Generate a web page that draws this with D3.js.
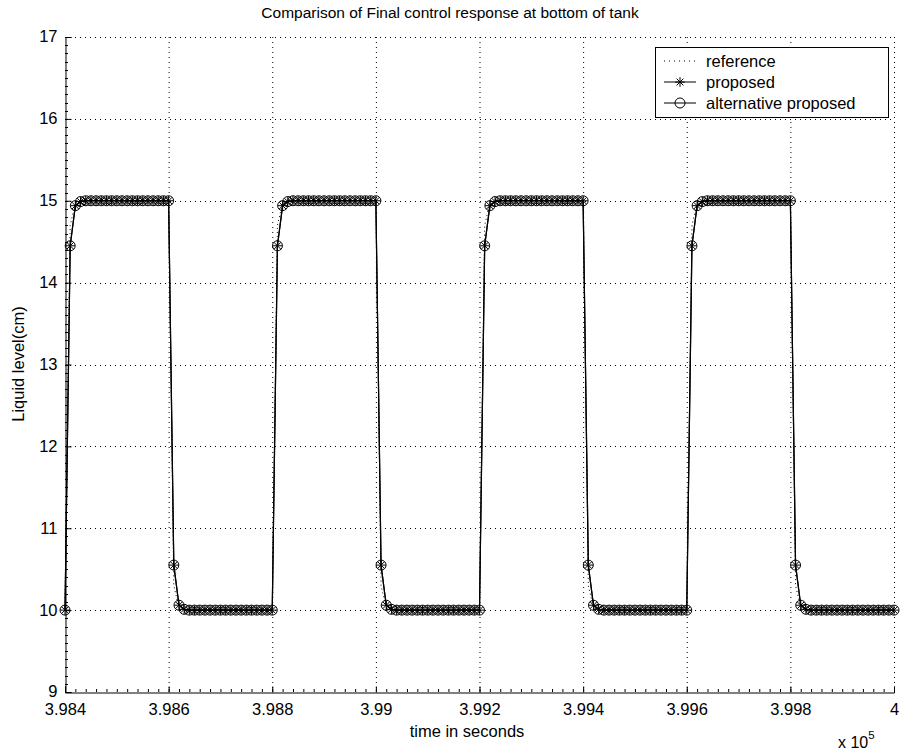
<!DOCTYPE html>
<html><head><meta charset="utf-8">
<script src="https://cdn.jsdelivr.net/npm/d3@7"></script>
<style>
body{margin:0;background:#fff;}
text{font-family:"Liberation Sans",Arial,Helvetica,sans-serif;fill:#000;}
</style></head>
<body><svg id="c" width="900" height="754"></svg>
<script>
// ---- data ----
const tStart = 398400, tStep = 10; // sample times in seconds (every 10 s)
const proposed = [
10,14.45,14.94,14.99,15,15,15,15,15,15,15,15,15,15,15,15,15,15,15,15,15,10.55,10.06,10.01,10,10,10,10,10,10,10,10,10,10,10,10,10,10,10,10,
10,14.45,14.94,14.99,15,15,15,15,15,15,15,15,15,15,15,15,15,15,15,15,15,10.55,10.06,10.01,10,10,10,10,10,10,10,10,10,10,10,10,10,10,10,10,
10,14.45,14.94,14.99,15,15,15,15,15,15,15,15,15,15,15,15,15,15,15,15,15,10.55,10.06,10.01,10,10,10,10,10,10,10,10,10,10,10,10,10,10,10,10,
10,14.45,14.94,14.99,15,15,15,15,15,15,15,15,15,15,15,15,15,15,15,15,15,10.55,10.06,10.01,10,10,10,10,10,10,10,10,10,10,10,10,10,10,10,10,
10];
const alternative = [
10,14.45,14.94,14.99,15,15,15,15,15,15,15,15,15,15,15,15,15,15,15,15,15,10.55,10.06,10.01,10,10,10,10,10,10,10,10,10,10,10,10,10,10,10,10,
10,14.45,14.94,14.99,15,15,15,15,15,15,15,15,15,15,15,15,15,15,15,15,15,10.55,10.06,10.01,10,10,10,10,10,10,10,10,10,10,10,10,10,10,10,10,
10,14.45,14.94,14.99,15,15,15,15,15,15,15,15,15,15,15,15,15,15,15,15,15,10.55,10.06,10.01,10,10,10,10,10,10,10,10,10,10,10,10,10,10,10,10,
10,14.45,14.94,14.99,15,15,15,15,15,15,15,15,15,15,15,15,15,15,15,15,15,10.55,10.06,10.01,10,10,10,10,10,10,10,10,10,10,10,10,10,10,10,10,
10];
const reference = [
10,14.7,14.97,15,15,15,15,15,15,15,15,15,15,15,15,15,15,15,15,15,15,10.3,10.03,10,10,10,10,10,10,10,10,10,10,10,10,10,10,10,10,10,
10,14.7,14.97,15,15,15,15,15,15,15,15,15,15,15,15,15,15,15,15,15,15,10.3,10.03,10,10,10,10,10,10,10,10,10,10,10,10,10,10,10,10,10,
10,14.7,14.97,15,15,15,15,15,15,15,15,15,15,15,15,15,15,15,15,15,15,10.3,10.03,10,10,10,10,10,10,10,10,10,10,10,10,10,10,10,10,10,
10,14.7,14.97,15,15,15,15,15,15,15,15,15,15,15,15,15,15,15,15,15,15,10.3,10.03,10,10,10,10,10,10,10,10,10,10,10,10,10,10,10,10,10,
10];
const xTicks = [398400,398600,398800,399000,399200,399400,399600,399800,400000];
const xTickLabels = ["3.984","3.986","3.988","3.99","3.992","3.994","3.996","3.998","4"];
const yTicks = [9,10,11,12,13,14,15,16,17];
const legendLabels = ["reference","proposed","alternative proposed"];
const titleText = "Comparison of Final control response at bottom of tank";

// ---- layout ----
const L=65, R=894, T=37, B=692;
const svg = d3.select("#c");
const x = d3.scaleLinear().domain([398400,400000]).range([L,R]);
const y = d3.scaleLinear().domain([9,17]).range([B,T]);
const times = proposed.map((_,i)=>tStart+i*tStep);

// grid (dotted)
const g = svg.append("g");
g.selectAll(".gx").data(xTicks.slice(1)).enter().append("line")
 .attr("x1",d=>x(d)+0.5).attr("x2",d=>x(d)+0.5).attr("y1",T).attr("y2",B)
 .attr("stroke","#000").attr("stroke-width",1).attr("stroke-dasharray","1,4");
g.selectAll(".gy").data(yTicks.slice(1)).enter().append("line")
 .attr("y1",d=>Math.round(y(d))+0.5).attr("y2",d=>Math.round(y(d))+0.5).attr("x1",L).attr("x2",R)
 .attr("stroke","#000").attr("stroke-width",1).attr("stroke-dasharray","1,4");

// axes (ticks inside)
const xAxis = d3.axisBottom(x).tickValues(xTicks).tickSize(-6).tickPadding(11)
  .tickFormat((d,i)=>xTickLabels[i]);
const ax = svg.append("g").attr("transform",`translate(0,${B+0.5})`).call(xAxis);
const yAxis = d3.axisLeft(y).tickValues(yTicks).tickSize(-6).tickPadding(8).tickFormat(d3.format("d"));
const ay = svg.append("g").attr("transform",`translate(${L+0.5},0)`).call(yAxis);
[ax,ay].forEach(a=>{
  a.select(".domain").attr("stroke","#000");
  a.selectAll("text").style("font-size","16.5px").attr("fill","#000");
});
ax.selectAll(".tick text").attr("dy","0.7em");
ay.selectAll(".tick text").attr("dy","0.3em");
// minor ticks
const xMinor = d3.range(398400,400001,20);
svg.append("g").selectAll("line").data(xMinor).enter().append("line")
 .attr("x1",d=>x(d)+0.5).attr("x2",d=>x(d)+0.5).attr("y1",B).attr("y2",B-3).attr("stroke","#000");
const yMinor = d3.range(90,171,1).map(v=>v/10);
svg.append("g").selectAll("line").data(yMinor).enter().append("line")
 .attr("y1",d=>Math.round(y(d))+0.5).attr("y2",d=>Math.round(y(d))+0.5).attr("x1",L).attr("x2",L+3).attr("stroke","#000");

// lines
const line = d3.line().x((d,i)=>x(times[i])).y(d=>y(d));
svg.append("path").datum(reference).attr("d",line).attr("fill","none")
 .attr("stroke","#000").attr("stroke-width",1).attr("stroke-dasharray","1,3");
svg.append("path").datum(proposed).attr("d",line).attr("fill","none")
 .attr("stroke","#000").attr("stroke-width",1.2);
svg.append("path").datum(alternative).attr("d",line).attr("fill","none")
 .attr("stroke","#000").attr("stroke-width",1.2);

function star(sel, r){
  sel.append("line").attr("x1",-r).attr("x2",r).attr("y1",0).attr("y2",0);
  sel.append("line").attr("x1",0).attr("x2",0).attr("y1",-r).attr("y2",r);
  const q=r*0.72;
  sel.append("line").attr("x1",-q).attr("x2",q).attr("y1",-q).attr("y2",q);
  sel.append("line").attr("x1",-q).attr("x2",q).attr("y1",q).attr("y2",-q);
}
const sg = svg.append("g").attr("stroke","#000").attr("stroke-width",1);
proposed.forEach((v,i)=>{
  const m = sg.append("g").attr("transform",`translate(${x(times[i])},${y(v)})`);
  star(m,4.8);
});
svg.append("g").selectAll("circle").data(alternative).enter().append("circle")
 .attr("cx",(d,i)=>x(times[i])).attr("cy",d=>y(d)).attr("r",5)
 .attr("fill","none").attr("stroke","#000").attr("stroke-width",1);

// title & labels
svg.append("text").attr("x",450).attr("y",18).attr("text-anchor","middle")
 .style("font-size","15.5px").text(titleText);
svg.append("text").attr("x",467).attr("y",737).attr("text-anchor","middle")
 .style("font-size","16.5px").text("time in seconds");
svg.append("text").attr("transform","translate(24,364) rotate(-90)").attr("text-anchor","middle")
 .style("font-size","16.5px").text("Liquid level(cm)");
const ex = svg.append("text").attr("x",838).attr("y",748).style("font-size","16px");
ex.append("tspan").text("x 10");
ex.append("tspan").attr("dy",-9).style("font-size","11.5px").text("5");

// legend
const lg = svg.append("g");
lg.append("rect").attr("x",655.5).attr("y",47.5).attr("width",233).attr("height",70)
 .attr("fill","#fff").attr("stroke","#000");
const rows=[61,82,103];
lg.append("line").attr("x1",664).attr("x2",696).attr("y1",rows[0]).attr("y2",rows[0])
 .attr("stroke","#000").attr("stroke-dasharray","1,4");
lg.append("line").attr("x1",664).attr("x2",696).attr("y1",rows[1]).attr("y2",rows[1]).attr("stroke","#000");
star(lg.append("g").attr("stroke","#000").attr("stroke-width",1).attr("transform",`translate(680,${rows[1]})`),4.8);
lg.append("line").attr("x1",664).attr("x2",696).attr("y1",rows[2]).attr("y2",rows[2]).attr("stroke","#000");
lg.append("circle").attr("cx",680).attr("cy",rows[2]).attr("r",5).attr("fill","none").attr("stroke","#000").attr("stroke-width",1);
legendLabels.forEach((t,i)=>{
  lg.append("text").attr("x",706).attr("y",rows[i]+6).style("font-size","16.5px").text(t);
});
</script></body></html>
